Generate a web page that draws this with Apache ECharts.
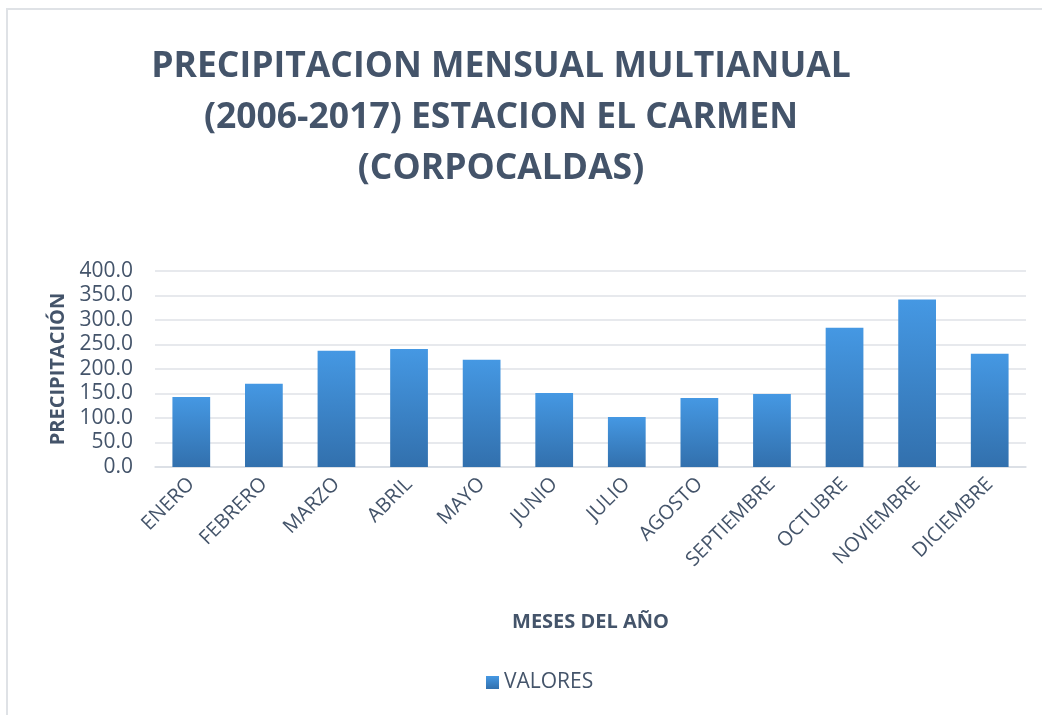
<!DOCTYPE html>
<html>
<head>
<meta charset="utf-8">
<script src="https://cdn.jsdelivr.net/npm/echarts@6/dist/echarts.min.js"></script>
<style>
  html, body { margin: 0; padding: 0; background: #fff; }
  #chart { width: 1042px; height: 715px; }
</style>
</head>
<body>
<div id="chart"></div>
<script>
const months = ['ENERO', 'FEBRERO', 'MARZO', 'ABRIL', 'MAYO', 'JUNIO', 'JULIO',
  'AGOSTO', 'SEPTIEMBRE', 'OCTUBRE', 'NOVIEMBRE', 'DICIEMBRE'];
const valores = [143, 170, 237, 241, 219, 151, 102, 141, 149, 284, 342, 231];

const textColor = '#44546a';
const font = '"Open Sans", sans-serif';

let chart = echarts.init(document.getElementById('chart'));
const chartOptions = {
  backgroundColor: '#fff',
  title: {
    text: 'PRECIPITACION MENSUAL MULTIANUAL\n(2006-2017) ESTACION EL CARMEN\n(CORPOCALDAS)',
    left: 496,
    top: 36,
    textAlign: 'center',
    textStyle: {
      color: textColor,
      fontFamily: font,
      fontWeight: 'bold',
      fontSize: 35.5,
      lineHeight: 51
    }
  },
  graphic: [{
    type: 'rect',
    shape: { x: 7, y: 9, width: 1100, height: 800 },
    style: { fill: 'none', stroke: '#dfe2e6', lineWidth: 2 },
    silent: true
  }],
  legend: {
    bottom: 17,
    left: 481,
    itemWidth: 13,
    itemHeight: 13,
    itemGap: 10,
    icon: 'rect',
    textStyle: { color: textColor, fontFamily: font, fontSize: 21 }
  },
  grid: {
    left: 155,
    right: 16,
    top: 271,
    bottom: 248
  },
  xAxis: {
    type: 'category',
    data: months,
    name: 'MESES DEL AÑO',
    nameLocation: 'middle',
    nameGap: 145,
    nameTextStyle: { color: textColor, fontFamily: font, fontWeight: 'bold', fontSize: 20 },
    axisLine: { lineStyle: { color: '#d9dde3', width: 1.5 } },
    axisTick: { show: false },
    axisLabel: {
      rotate: 45,
      margin: 14,
      color: textColor,
      fontFamily: font,
      fontSize: 20
    }
  },
  yAxis: {
    type: 'value',
    min: 0,
    max: 400,
    interval: 50,
    name: 'PRECIPITACIÓN',
    nameLocation: 'middle',
    nameGap: 87,
    nameTextStyle: { color: textColor, fontFamily: font, fontWeight: 'bold', fontSize: 20 },
    axisLine: { show: false },
    axisTick: { show: false },
    splitLine: { lineStyle: { color: '#dfe2e7', width: 1.5 } },
    axisLabel: {
      margin: 22,
      color: textColor,
      fontFamily: font,
      fontSize: 21,
      formatter: v => v.toFixed(1)
    }
  },
  series: [{
    name: 'VALORES',
    type: 'bar',
    data: valores,
    barCategoryGap: '48%',
    itemStyle: {
      color: new echarts.graphic.LinearGradient(0, 0, 0, 1, [
        { offset: 0, color: '#4598e3' },
        { offset: 1, color: '#3270ad' }
      ]),
      shadowBlur: 6,
      shadowColor: 'rgba(0,0,0,0.22)',
      shadowOffsetX: 2,
      shadowOffsetY: 2
    }
  }]
};
chart.setOption(chartOptions);
</script>
</body>
</html>
